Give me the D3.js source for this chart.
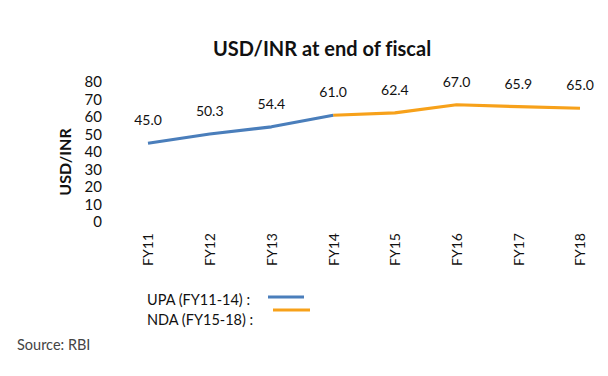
<!DOCTYPE html>
<html lang="en">
<head>
<meta charset="UTF-8">
<title>USD/INR at end of fiscal</title>
<script src="https://d3js.org/d3.v7.min.js"></script>
<style>
    body { margin: 0; background: #fff; overflow: hidden; }
    text { font-family: Lato, "Open Sans", sans-serif; fill: #111; font-variant-ligatures: none; }
    .title { font-size: 20px; font-weight: bold; text-anchor: middle; }
    .ylabel { font-size: 16px; font-weight: bold; text-anchor: middle; }
    .val { font-size: 14px; text-anchor: middle; }
    .legend { font-size: 14.5px; }
    .source { font-size: 14.5px; fill: #444; }
</style>
</head>
<body>
<svg id="chart" width="608" height="376"></svg>
<script>
// data
const years = ["FY11", "FY12", "FY13", "FY14", "FY15", "FY16", "FY17", "FY18"];
const rates = [45.0, 50.3, 54.4, 61.0, 62.4, 67.0, 65.9, 65.0];
const upaYears = ["FY11", "FY12", "FY13", "FY14"];
const ndaYears = ["FY14", "FY15", "FY16", "FY17", "FY18"];
const yTicks = [0, 10, 20, 30, 40, 50, 60, 70, 80];
const legendLabels = ["UPA (FY11-14) :", "NDA (FY15-18)  :"];

const blue = "#4a7ebb", orange = "#f7a11a";

const svg = d3.select("#chart");

const x = d3.scalePoint().domain(years).range([148, 580]);
const y = d3.scaleLinear().domain([0, 80]).range([222, 82]);

svg.append("text").attr("class", "title")
    .attr("x", 322).attr("y", 56)
    .text("USD/INR at end of fiscal");

// y axis (no line, labels only)
const yAxis = svg.append("g")
    .attr("transform", "translate(102,0)")
    .call(d3.axisLeft(y).tickValues(yTicks).tickSize(0).tickPadding(0));
yAxis.select(".domain").remove();
yAxis.selectAll("text")
    .style("font-family", "Lato, 'Open Sans', sans-serif")
    .style("font-size", "15px").attr("fill", "#111");

svg.append("text").attr("class", "ylabel")
    .attr("transform", "translate(71,162) rotate(-90)")
    .text("USD/INR");

// x axis labels rotated
const xAxis = svg.append("g")
    .attr("transform", "translate(0,228)")
    .call(d3.axisBottom(x).tickSize(0).tickPadding(0));
xAxis.select(".domain").remove();
xAxis.selectAll("text")
    .style("font-family", "Lato, 'Open Sans', sans-serif")
    .style("font-size", "14px").attr("fill", "#111")
    .attr("transform", "rotate(-90)")
    .attr("text-anchor", "end")
    .attr("x", -5).attr("y", 0).attr("dy", "0.35em");

const byYear = new Map(years.map((d, i) => [d, rates[i]]));
const line = d3.line().x(d => x(d)).y(d => y(byYear.get(d)));

svg.append("path").datum(ndaYears)
    .attr("d", line).attr("fill", "none")
    .attr("stroke", orange).attr("stroke-width", 3.2)
    .attr("stroke-linejoin", "round");
svg.append("path").datum(upaYears)
    .attr("d", line).attr("fill", "none")
    .attr("stroke", blue).attr("stroke-width", 3.2)
    .attr("stroke-linejoin", "round");

svg.selectAll(".val").data(years).join("text")
    .attr("class", "val")
    .attr("x", d => x(d))
    .attr("y", d => y(byYear.get(d)) - 18)
    .text(d => byYear.get(d).toFixed(1));

// legend
svg.append("text").attr("class", "legend").attr("x", 147).attr("y", 305).text(legendLabels[0]);
svg.append("text").attr("class", "legend").attr("x", 147).attr("y", 325).text(legendLabels[1]);
svg.append("line").attr("x1", 268).attr("x2", 304).attr("y1", 297).attr("y2", 297)
    .attr("stroke", blue).attr("stroke-width", 3);
svg.append("line").attr("x1", 273).attr("x2", 310).attr("y1", 310).attr("y2", 310)
    .attr("stroke", orange).attr("stroke-width", 3);

svg.append("text").attr("class", "source").attr("x", 17).attr("y", 350).text("Source: RBI");
</script>
</body>
</html>
